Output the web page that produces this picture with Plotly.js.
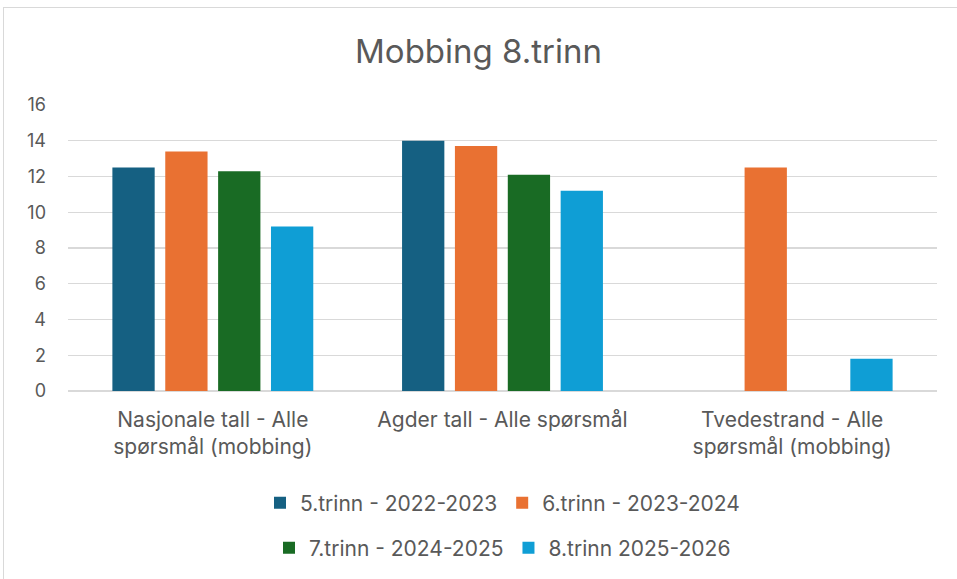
<!DOCTYPE html>
<html>
<head>
<meta charset="utf-8">
<script src="https://cdn.plot.ly/plotly-3.0.1.min.js"></script>
<style>
  html, body { margin: 0; padding: 0; background: #fff; }
  #chart { width: 957px; height: 579px; position: relative; }
  #frame { position: absolute; left: 3px; top: 7px; width: 960px; height: 600px; border: 1px solid #d9d9d9; pointer-events: none; }
</style>
</head>
<body>
<div id="chart"></div>
<div id="frame"></div>
<script>
const categories = [
  "Nasjonale tall - Alle<br>spørsmål (mobbing)",
  "Agder tall - Alle spørsmål",
  "Tvedestrand - Alle<br>spørsmål (mobbing)"
];
const seriesNames = [
  "5.trinn - 2022-2023",
  "6.trinn - 2023-2024",
  "7.trinn - 2024-2025",
  "8.trinn 2025-2026"
];
const trinn5 = [12.5, 14.0, null];
const trinn6 = [13.4, 13.7, 12.5];
const trinn7 = [12.3, 12.1, null];
const trinn8 = [9.2, 11.2, 1.8];
const colors = ["#156082", "#E97132", "#196B24", "#0F9ED5"];
const yTicks = [0, 2, 4, 6, 8, 10, 12, 14, 16];

const values = [trinn5, trinn6, trinn7, trinn8];
const legendIds = ["legend", "legend", "legend2", "legend2"];
const traces = values.map((v, i) => ({
  type: "bar",
  name: seriesNames[i],
  x: categories,
  y: v,
  marker: { color: colors[i] },
  legend: legendIds[i],
  hoverinfo: "x+y+name"
}));

const txt = "#595959";
const fam = "Inter, Roboto, sans-serif";
const layout = {
  width: 957,
  height: 579,
  paper_bgcolor: "#ffffff",
  plot_bgcolor: "#ffffff",
  font: { family: fam, color: txt, size: 20 },
  margin: { l: 68, r: 20, t: 105, b: 188 },
  title: {
    text: "Mobbing 8.trinn",
    font: { family: fam, size: 33, color: txt },
    x: 0.5, xanchor: "center",
    y: 1 - 51 / 579, yref: "container", yanchor: "middle"
  },
  barmode: "group",
  bargap: 0.27,
  bargroupgap: 0.2,
  xaxis: {
    type: "category",
    showgrid: false,
    showline: false,
    zeroline: false,
    ticks: "",
    tickfont: { family: fam, size: 21, color: txt },
    ticklabelstandoff: 14
  },
  yaxis: {
    range: [0, 16],
    tickvals: yTicks,
    ticktext: yTicks.map(String),
    showgrid: true,
    gridcolor: "#d9d9d9",
    gridwidth: 1.3,
    zeroline: true,
    zerolinecolor: "#d9d9d9",
    zerolinewidth: 1.3,
    showline: false,
    ticks: "",
    tickfont: { family: fam, size: 18, color: txt },
    ticklabelstandoff: 21
  },
  showlegend: true,
  legend: {
    orientation: "h",
    x: 0.5, xanchor: "center",
    y: 1 - 503 / 579, yref: "container", yanchor: "middle",
    font: { family: fam, size: 21, color: txt },
    itemwidth: 30,
    traceorder: "normal"
  },
  legend2: {
    orientation: "h",
    x: 0.5, xanchor: "center",
    y: 1 - 548 / 579, yref: "container", yanchor: "middle",
    font: { family: fam, size: 21, color: txt },
    itemwidth: 30,
    traceorder: "normal"
  }
};

Plotly.newPlot("chart", traces, layout, { displayModeBar: false, staticPlot: true });
</script>
</body>
</html>
